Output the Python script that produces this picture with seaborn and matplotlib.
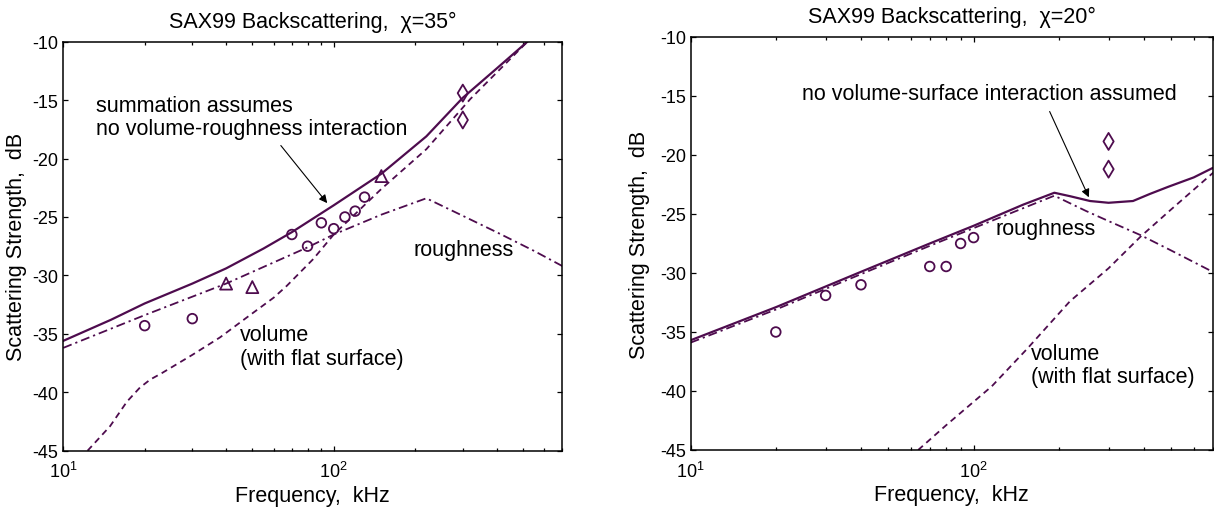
import numpy as np
import pandas as pd
import seaborn as sns
import matplotlib
matplotlib.use("Agg")
import matplotlib.pyplot as plt
from matplotlib.ticker import LogLocator, NullFormatter, FixedLocator

# ---- data (frequency in kHz, strength in dB) ----
# chi = 35 deg
sum35_f = [10, 15, 20, 30, 40, 55, 70, 100, 150, 220, 300, 400, 520, 700]
sum35_db = [-35.6, -33.8, -32.4, -30.7, -29.4, -27.7, -26.3, -24.0, -21.3, -18.1, -14.8, -12.3, -10.0, -7.2]
rough35_f = [10, 20, 40, 80, 100, 150, 220, 300, 400, 550, 700]
rough35_db = [-36.2, -33.4, -30.7, -27.6, -26.5, -24.8, -23.4, -24.9, -26.3, -27.9, -29.2]
vol35_f = [12.3, 14.9, 17.2, 19.2, 21, 23, 30, 38, 49, 60, 67, 84, 100, 150, 220, 320, 510, 700]
vol35_db = [-45, -42.9, -40.8, -39.6, -38.9, -38.4, -36.8, -35.3, -33.4, -31.9, -30.9, -28.6, -26.5, -22.6, -19.2, -14.9, -10.2, -6.9]
circ35_f = [20, 30, 70, 80, 90, 100, 110, 120, 130]
circ35_db = [-34.3, -33.7, -26.5, -27.5, -25.5, -26.0, -25.0, -24.5, -23.3]
tri35_f = [40, 50, 150]
tri35_db = [-30.7, -31.0, -21.5]
dia35_f = [300, 300]
dia35_db = [-14.4, -16.7]

# chi = 20 deg
sum20_f = [10, 20, 40, 70, 100, 150, 193, 220, 258, 300, 366, 420, 487, 600, 700]
sum20_db = [-35.7, -32.9, -29.9, -27.5, -26.0, -24.2, -23.2, -23.5, -23.9, -24.05, -23.9, -23.3, -22.7, -21.9, -21.1]
rough20_f = [10, 20, 40, 70, 100, 150, 193, 250, 300, 390, 500, 700]
rough20_db = [-35.9, -33.1, -30.1, -27.7, -26.2, -24.5, -23.45, -24.75, -25.6, -26.8, -28.1, -29.9]
vol20_f = [63.7, 80, 116, 155, 219, 300, 390, 500, 703]
vol20_db = [-45, -42.9, -39.6, -36.4, -32.4, -29.6, -26.9, -24.6, -21.5]
circ20_f = [20, 30, 40, 70, 80, 90, 100]
circ20_db = [-35.0, -31.9, -31.0, -29.45, -29.45, -27.5, -27.0]
dia20_f = [300, 300]
dia20_db = [-18.85, -21.2]

yticks = [-45, -40, -35, -30, -25, -20, -15, -10]

sns.set_theme(style="white")
plt.rcParams["font.family"] = ["Liberation Sans", "DejaVu Sans"]
plt.rcParams["mathtext.fontset"] = "custom"
plt.rcParams["mathtext.rm"] = "Liberation Sans"
plt.rcParams["mathtext.it"] = "Liberation Sans:italic"
plt.rcParams["axes.unicode_minus"] = False
plt.rcParams["text.color"] = "black"
plt.rcParams["axes.labelcolor"] = "black"

purple = "#4e0c4e"
dashdot = (0, (5, 2.2, 1.2, 2.2))
big = 15.5
small = 13

fig = plt.figure(figsize=(12.14, 5.10), dpi=100)
ax1 = fig.add_axes([0.0521, 0.1143, 0.4111, 0.8020])
ax2 = fig.add_axes([0.5689, 0.1157, 0.4300, 0.8098])


def curve(ax, f, db, ls, lw):
    sns.lineplot(x=f, y=db, ax=ax, color=purple, linestyle=ls, lw=lw,
                 sort=False, estimator=None)


def marks(ax, f, db, m, s):
    sns.scatterplot(x=f, y=db, ax=ax, marker=m, s=s, facecolors="none",
                    edgecolor=purple, linewidth=1.3, zorder=5)


curve(ax1, sum35_f, sum35_db, "-", 1.6)
curve(ax1, rough35_f, rough35_db, dashdot, 1.3)
curve(ax1, vol35_f, vol35_db, (0, (3.5, 2.5)), 1.3)
marks(ax1, circ35_f, circ35_db, "o", 48)
marks(ax1, tri35_f, tri35_db, "^", 75)
marks(ax1, dia35_f, dia35_db, "d", 75)

curve(ax2, sum20_f, sum20_db, "-", 1.6)
curve(ax2, rough20_f, rough20_db, dashdot, 1.3)
curve(ax2, vol20_f, vol20_db, (0, (3.5, 2.5)), 1.3)
marks(ax2, circ20_f, circ20_db, "o", 48)
marks(ax2, dia20_f, dia20_db, "d", 75)

for ax, chi in [(ax1, 35), (ax2, 20)]:
    ax.set_xscale("log")
    ax.set_xlim(10, 700)
    ax.set_ylim(-45, -10)
    ax.yaxis.set_major_locator(FixedLocator(yticks))
    ax.xaxis.set_major_locator(LogLocator(base=10))
    ax.xaxis.set_minor_locator(LogLocator(base=10, subs=np.arange(2, 10)))
    ax.xaxis.set_minor_formatter(NullFormatter())
    ax.tick_params(which="both", direction="in", top=True, right=True,
                   bottom=True, left=True, colors="black", labelsize=small,
                   width=0.9)
    ax.tick_params(which="major", length=3.5)
    ax.tick_params(which="minor", length=2.2)
    ax.tick_params(axis="y", pad=3.5)
    ax.tick_params(axis="x", pad=7.5)
    for sp in ax.spines.values():
        sp.set_color("black")
        sp.set_linewidth(1.1)
    ax.set_title(f"SAX99 Backscattering,  χ={chi}°", fontsize=big, pad=10.5,
                 color="black")
    ax.set_xlabel("Frequency,  kHz", fontsize=big, color="black")
    ax.set_ylabel("Scattering Strength,  dB", fontsize=big, color="black")

ax1.xaxis.set_label_coords(0.5, -0.083)
ax2.xaxis.set_label_coords(0.5, -0.083)
ax1.yaxis.set_label_coords(-0.073, 0.5)
ax2.yaxis.set_label_coords(-0.077, 0.5)

# annotations, left
ax1.text(13.2, -16.45, "summation assumes\nno volume-roughness interaction",
         fontsize=big, va="center", ha="left", linespacing=1.15, color="black")
ax1.annotate("", xy=(96, -24.0), xytext=(62.8, -18.7),
             arrowprops=dict(arrowstyle="-|>", color="black", lw=0.8,
                             mutation_scale=12))
ax1.text(45.1, -36.1, "volume\n(with flat surface)", fontsize=big,
         va="center", ha="left", linespacing=1.15, color="black")
ax1.text(197, -27.74, "roughness", fontsize=big, va="center", ha="left",
         color="black")

# annotations, right
ax2.text(24.7, -14.79, "no volume-surface interaction assumed", fontsize=big,
         va="center", ha="left", color="black")
ax2.annotate("", xy=(258, -23.8), xytext=(184, -16.1),
             arrowprops=dict(arrowstyle="-|>", color="black", lw=0.8,
                             mutation_scale=12))
ax2.text(119.7, -26.2, "roughness", fontsize=big, va="center", ha="left",
         color="black")
ax2.text(159.6, -37.8, "volume\n(with flat surface)", fontsize=big,
         va="center", ha="left", linespacing=1.15, color="black")

fig.savefig("out.png", dpi=100)
